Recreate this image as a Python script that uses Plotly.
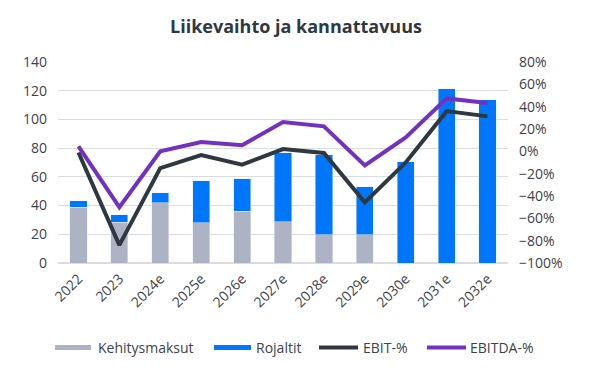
import plotly.graph_objects as go

years = ["2022", "2023", "2024e", "2025e", "2026e", "2027e", "2028e", "2029e", "2030e", "2031e", "2032e"]
kehitysmaksut = [39, 28.5, 42, 28, 36, 28.6, 19.8, 19.8, 0, 0, 0]
rojaltit = [4.2, 5, 7, 29.2, 22.6, 48.3, 55.5, 33.2, 70.4, 121.3, 113.6]
ebit_pct = [-1, -84, -15, -3.3, -12, 2, -1.5, -45.7, -10, 36, 31.3]
ebitda_pct = [4.4, -50, 0, 8.4, 5.4, 26.3, 22.4, -12.6, 12.5, 47.4, 43.3]

font_family = "'Open Sans', Lato, sans-serif"
text_col = "#3d4249"
c_keh = "#adb3c4"
c_roj = "#0077fa"
c_ebit = "#2e3840"
c_ebitda = "#7331bf"

# figure geometry (page is rendered with an 8px body margin)
OFF = 8
W, H = 591 - OFF, 376 - OFF
L, R, T, B = 50, 83, 54, 113
PW, PH = W - L - R, H - T - B


def px(xp):  # page x -> paper x
    return (xp - OFF - L) / PW


def py(yp):  # page y -> paper y
    return (H - B - (yp - OFF)) / PH


fig = go.Figure()
fig.add_trace(go.Bar(x=years, y=kehitysmaksut, name="Kehitysmaksut", marker_color=c_keh, showlegend=False))
fig.add_trace(go.Bar(x=years, y=rojaltit, name="Rojaltit", marker_color=c_roj, showlegend=False))
fig.add_trace(go.Scatter(x=years, y=ebit_pct, name="EBIT-%", mode="lines",
                         line=dict(color=c_ebit, width=4), yaxis="y2", showlegend=False))
fig.add_trace(go.Scatter(x=years, y=ebitda_pct, name="EBITDA-%", mode="lines",
                         line=dict(color=c_ebitda, width=4), yaxis="y2", showlegend=False))

# manual legend
legend_y = 347.5
legend_items = [
    ("Kehitysmaksut", c_keh, 5, "butt", 55, 91, 96),
    ("Rojaltit", c_roj, 5, "butt", 214, 251, 254),
    ("EBIT-%", c_ebit, 4, "round", 319, 358, 361),
    ("EBITDA-%", c_ebitda, 4, "round", 427, 466, 468),
]
shapes = []
annotations = []
for name, col, w, cap, x0, x1, tx in legend_items:
    shapes.append(dict(type="line", xref="paper", yref="paper",
                       x0=px(x0), x1=px(x1), y0=py(legend_y), y1=py(legend_y),
                       line=dict(color=col, width=w)))
    annotations.append(dict(text=name, xref="paper", yref="paper", x=px(tx), y=py(legend_y),
                            xanchor="left", yanchor="middle", showarrow=False,
                            font=dict(size=14, color=text_col, family=font_family)))

fig.update_layout(
    width=W, height=H,
    barmode="stack", bargap=0.58,
    plot_bgcolor="white", paper_bgcolor="white",
    margin=dict(l=L, r=R, t=T, b=B, autoexpand=False),
    font=dict(family=font_family, size=14, color=text_col),
    title=dict(text="<b>Liikevaihto ja kannattavuus</b>", x=(296 - OFF) / W,
               xanchor="center", y=1 - (27 - OFF) / H, yanchor="middle",
               font=dict(size=18, color="#2e3840")),
    xaxis=dict(tickangle=-45, showgrid=False, showline=False, ticks="",
               ticklabelstandoff=4, tickfont=dict(size=14, color=text_col)),
    yaxis=dict(range=[0, 140], dtick=20, showgrid=True, gridcolor="#d9dde3",
               gridwidth=1, zeroline=True, zerolinecolor="#d9dde3", ticks="",
               ticklabelstandoff=10, tickfont=dict(size=14, color=text_col)),
    yaxis2=dict(range=[-100, 80], dtick=20, overlaying="y", side="right",
                showgrid=False, zeroline=False, ticksuffix="%", ticks="",
                ticklabelstandoff=10, tickfont=dict(size=14, color=text_col)),
    shapes=shapes,
    annotations=annotations,
    showlegend=False,
)

fig.write_html("out.html")
